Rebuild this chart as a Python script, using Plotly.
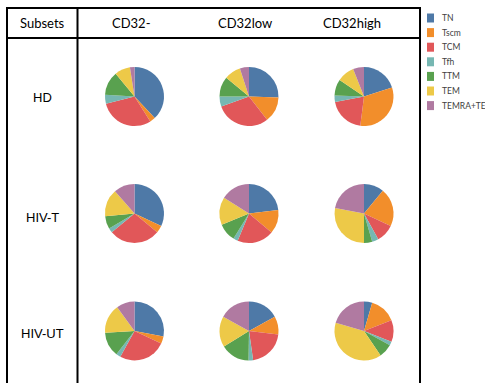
import plotly.graph_objects as go

W, H = 485, 383

subsets = ["TN", "Tscm", "TCM", "Tfh", "TTM", "TEM", "TEMRA+TE"]
colors = ["#4E79A7", "#F28E2B", "#E15759", "#76B7B2", "#59A14F", "#EDC948", "#B07AA1"]
columns = ["CD32-", "CD32low", "CD32high"]
rows = ["HD", "HIV-T", "HIV-UT"]

# percentages per subset (TN, Tscm, TCM, Tfh, TTM, TEM, TEMRA)
HD_CD32neg = [38, 3, 30, 5, 13, 8.5, 2.5]
HD_CD32low = [25.5, 14, 30, 5.5, 11, 9, 5]
HD_CD32high = [20, 32, 20, 3.5, 9, 9.5, 6]
HIVT_CD32neg = [32, 4, 28, 2.5, 7, 15, 11.5]
HIVT_CD32low = [23, 13, 20, 2.5, 10, 15, 16]
HIVT_CD32high = [11, 21, 10, 3.5, 4.5, 28, 22]
HIVUT_CD32neg = [28, 4, 26, 2.5, 13.5, 16, 10]
HIVUT_CD32low = [17, 10, 21, 2.5, 16, 17, 17]
HIVUT_CD32high = [4.5, 14.5, 12, 2, 7.5, 39, 20.5]

grid = [
    [HD_CD32neg, HD_CD32low, HD_CD32high],
    [HIVT_CD32neg, HIVT_CD32low, HIVT_CD32high],
    [HIVUT_CD32neg, HIVUT_CD32low, HIVUT_CD32high],
]

def px(x):
    return x / W

def py(y):
    return 1 - y / H

col_cx = [134.5, 249, 364]
row_cy = [96.5, 213.5, 331]
R = 29.5

fig = go.Figure()
for i, rname in enumerate(rows):
    for j, cname in enumerate(columns):
        cx, cy = col_cx[j], row_cy[i]
        fig.add_trace(go.Pie(
            labels=subsets,
            values=grid[i][j],
            sort=False,
            direction="clockwise",
            rotation=0,
            textinfo="none",
            hoverinfo="label+percent",
            marker=dict(colors=colors, line=dict(width=0)),
            domain=dict(x=[px(cx - R), px(cx + R)], y=[py(cy + R), py(cy - R)]),
            showlegend=False,
            name=f"{rname} {cname}",
        ))

shapes = []
lk = dict(color="black", width=2)
# table lines
shapes.append(dict(type="line", xref="paper", yref="paper", x0=px(7), x1=px(420), y0=py(8), y1=py(8), line=lk))
shapes.append(dict(type="line", xref="paper", yref="paper", x0=px(7), x1=px(420), y0=py(38), y1=py(38), line=lk))
for xv in [7, 77.5, 420]:
    shapes.append(dict(type="line", xref="paper", yref="paper", x0=px(xv), x1=px(xv), y0=py(7), y1=py(390), line=lk))

annotations = []
hfont = dict(family="Lato, Open Sans, sans-serif", size=13, color="black")
annotations.append(dict(text="Subsets", x=px(42), y=py(23), xref="paper", yref="paper",
                        showarrow=False, font=hfont, xanchor="center", yanchor="middle"))
for j, cname in enumerate(columns):
    annotations.append(dict(text=cname, x=px([131, 245, 352][j]), y=py(23), xref="paper", yref="paper",
                            showarrow=False, font=hfont, xanchor="center", yanchor="middle"))
rfont = dict(family="Liberation Sans, Arial, sans-serif", size=13, color="black")
for i, rname in enumerate(rows):
    annotations.append(dict(text=rname, x=px(42), y=py([97, 218, 333][i]), xref="paper", yref="paper",
                            showarrow=False, font=rfont, xanchor="center", yanchor="middle"))

# legend
lfont = dict(family="Lato, Open Sans, sans-serif", size=8.5, color="#404040")
for k, (s, c) in enumerate(zip(subsets, colors)):
    yc = 18 + k * 14.6
    shapes.append(dict(type="rect", xref="paper", yref="paper", x0=px(427), x1=px(434),
                       y0=py(yc - 4.5), y1=py(yc + 4.5), fillcolor=c, line=dict(width=0)))
    annotations.append(dict(text=s, x=px(440), y=py(yc), xref="paper", yref="paper",
                            showarrow=False, font=lfont, xanchor="left", yanchor="middle"))

fig.update_layout(
    width=W, height=H,
    margin=dict(l=0, r=0, t=0, b=0),
    paper_bgcolor="white", plot_bgcolor="white",
    shapes=shapes, annotations=annotations,
    showlegend=False,
)

fig.write_html(
    "out.html",
    config={"displayModeBar": False},
    post_script="document.body.style.margin='0';document.body.style.overflow='hidden';",
)
